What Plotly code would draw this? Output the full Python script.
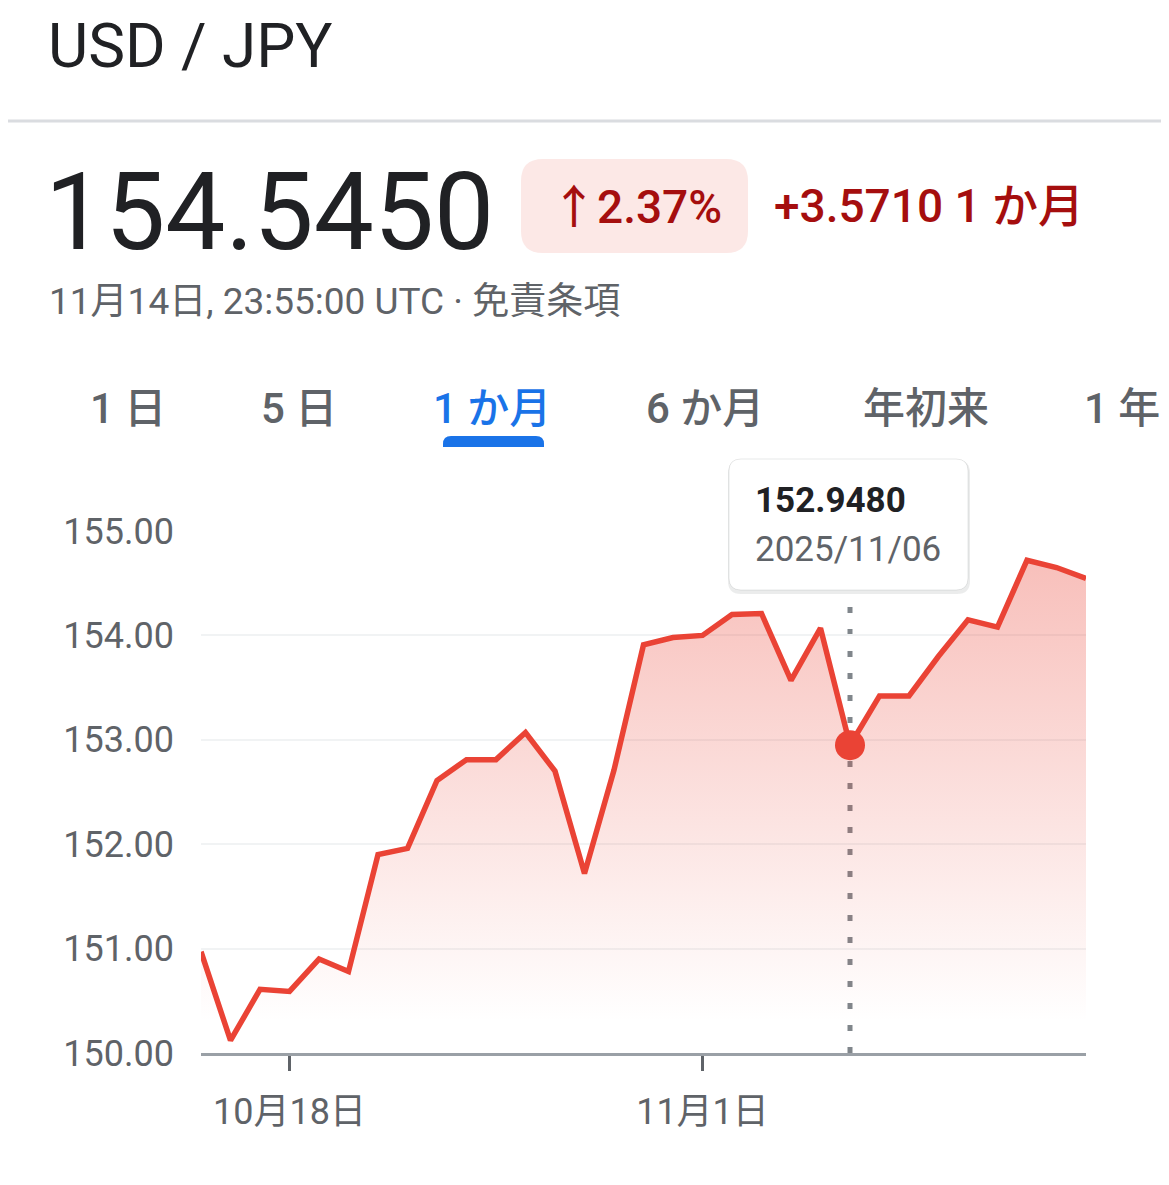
import plotly.graph_objects as go
import pandas as pd

# ---------------- data ----------------
dates = pd.date_range("2025-10-15", "2025-11-14", freq="D").strftime("%Y-%m-%d").tolist()
rates = [150.97, 150.12, 150.61, 150.59, 150.90, 150.78, 151.90, 151.96, 152.61, 152.81,
         152.81, 153.07, 152.70, 151.72, 152.71, 153.91, 153.98, 154.00, 154.20, 154.21,
         153.57, 154.07, 152.948, 153.42, 153.42, 153.80, 154.15, 154.08, 154.72, 154.65,
         154.545]

x_tick_vals = ["2025-10-18", "2025-11-01"]
x_tick_text = ["10月18日", "11月1日"]
y_tick_vals = [150, 151, 152, 153, 154, 155]
y_tick_text = ["150.00", "151.00", "152.00", "153.00", "154.00", "155.00"]

hover_date = "2025-11-06"
hover_value = 152.948
hover_label = "2025/11/06"

pair_title = "USD / JPY"
last_price = "154.5450"
change_pct = "↑2.37%"
change_abs = "+3.5710 1 か月"
timestamp = "11月14日, 23:55:00 UTC · 免責条項"
tabs = ["1 日", "5 日", "1 か月", "6 か月", "年初来", "1 年"]
tab_centers = [128, 299, 492, 705, 926, 1122]
selected_tab = 2

# ---------------- layout geometry (screen pixels) ----------------
OFF = 8                      # page body margin
SW, SH = 1169, 1185
W, H = SW - OFF, SH - OFF
L, R, T, B = 201, 1086, 531, 1053
FONT = "Roboto, 'Noto Sans CJK JP', sans-serif"
RED = "#ea4335"
DARK_RED = "#a50e0e"
GREY = "#5f6368"


def px(xp):
    return (xp - L) / (R - L)


def py(yp):
    return (B - yp) / (B - T)


def rounded_path(x0, y0, x1, y1, r, top_only=False):
    rb = 0 if top_only else r
    pts = [f"M {px(x0 + r)},{py(y0)}",
           f"L {px(x1 - r)},{py(y0)}",
           f"Q {px(x1)},{py(y0)} {px(x1)},{py(y0 + r)}",
           f"L {px(x1)},{py(y1 - rb)}"]
    if rb:
        pts.append(f"Q {px(x1)},{py(y1)} {px(x1 - rb)},{py(y1)}")
    pts.append(f"L {px(x0 + rb)},{py(y1)}")
    if rb:
        pts.append(f"Q {px(x0)},{py(y1)} {px(x0)},{py(y1 - rb)}")
    pts += [f"L {px(x0)},{py(y0 + r)}",
            f"Q {px(x0)},{py(y0)} {px(x0 + r)},{py(y0)}", "Z"]
    return " ".join(pts)


fig = go.Figure()

fig.add_trace(go.Scatter(
    x=dates, y=rates, mode="lines",
    line=dict(color=RED, width=5.5),
    fill="tozeroy",
    fillgradient=dict(type="vertical", start=150.3, stop=155,
                      colorscale=[[0, "rgba(234,67,53,0)"], [1, "rgba(234,67,53,0.36)"]]),
    hoverinfo="skip", showlegend=False,
))

fig.add_trace(go.Scatter(
    x=[hover_date], y=[hover_value], mode="markers",
    marker=dict(color=RED, size=30),
    cliponaxis=False, hoverinfo="skip", showlegend=False,
))

shapes = []
shapes.append(dict(type="line", xref="paper", yref="paper",
                   x0=px(0), x1=px(SW), y0=py(121), y1=py(121),
                   line=dict(color="#dadce0", width=3)))
shapes.append(dict(type="path", xref="paper", yref="paper",
                   path=rounded_path(521, 159, 748, 253, 22),
                   fillcolor="#fce8e6", line=dict(width=0)))
shapes.append(dict(type="path", xref="paper", yref="paper",
                   path=rounded_path(443, 436, 544, 447, 8, top_only=True),
                   fillcolor="#1a73e8", line=dict(width=0)))
shapes.append(dict(type="line", xref="x", yref="paper",
                   x0=hover_date, x1=hover_date, y0=0, y1=py(595),
                   line=dict(color="#80868b", width=5, dash="6px,16px"), layer="below"))
shapes.append(dict(type="path", xref="paper", yref="paper",
                   path=rounded_path(728, 460, 970, 594, 13),
                   fillcolor="rgba(60,64,67,0.10)", line=dict(width=0)))
shapes.append(dict(type="path", xref="paper", yref="paper",
                   path=rounded_path(729, 459, 968, 590, 12),
                   fillcolor="white", line=dict(color="rgba(60,64,67,0.12)", width=1)))

annotations = []


def text(s, x, y, size, color, anchor="left", weight=None):
    annotations.append(dict(text=s, xref="paper", yref="paper", x=px(x), y=py(y),
                            xanchor=anchor, yanchor="middle", showarrow=False,
                            font=dict(family=FONT, size=size, color=color,
                                      weight=weight if weight else "normal")))


text(pair_title, 46, 46, 62, "#202124")
text(last_price, 43, 212, 107, "#202124")
text(change_pct, 636, 207, 46, DARK_RED, anchor="center", weight=500)
text(change_abs, 772, 206, 46, DARK_RED, weight=500)
text(timestamp, 47, 301, 37, GREY)
for i, (t, c) in enumerate(zip(tabs, tab_centers)):
    text(t, c, 408, 42, "#1a73e8" if i == selected_tab else GREY, anchor="center", weight=500)
text(f"{hover_value:.4f}", 753, 500, 35, "#202124", weight="bold")
text(hover_label, 753, 549, 35, GREY)

fig.update_layout(
    width=W, height=H,
    margin=dict(l=L - OFF, r=SW - R, t=T - OFF, b=SH - B, pad=0),
    paper_bgcolor="white", plot_bgcolor="white",
    shapes=shapes, annotations=annotations,
    hovermode=False, showlegend=False,
    font=dict(family=FONT, color=GREY),
)

fig.update_xaxes(
    range=[dates[0], dates[-1]],
    tickvals=x_tick_vals, ticktext=x_tick_text,
    ticks="outside", ticklen=15, tickwidth=3, tickcolor=GREY,
    showgrid=False, zeroline=False,
    showline=True, linecolor="#9aa0a6", linewidth=3,
    tickfont=dict(family=FONT, size=36, color=GREY),
    ticklabelstandoff=10,
)
fig.update_yaxes(
    range=[150, 155],
    tickvals=y_tick_vals, ticktext=y_tick_text,
    showgrid=True, gridcolor="#f1f3f4", gridwidth=2,
    zeroline=False, showline=False, ticks="",
    tickfont=dict(family=FONT, size=36, color=GREY),
    ticklabelstandoff=26,
)

fig.write_html("out.html")
